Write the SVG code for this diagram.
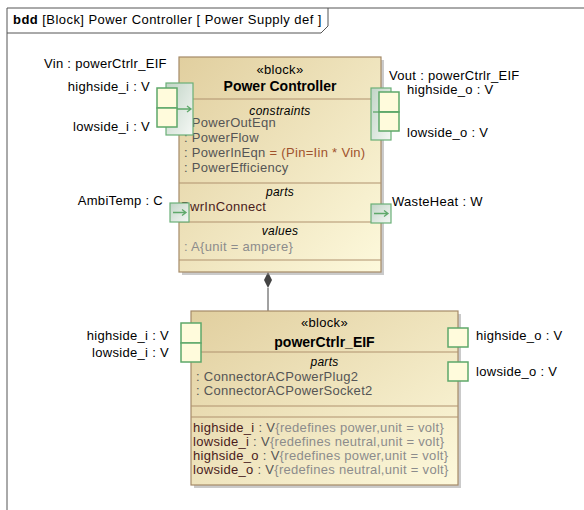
<svg xmlns="http://www.w3.org/2000/svg" width="584" height="510" viewBox="0 0 584 510">
<defs>
<linearGradient id="blk" x1="0" y1="0" x2="1" y2="1">
<stop offset="0" stop-color="#e1cf9f"/>
<stop offset="1" stop-color="#fdf9dc"/>
</linearGradient>
<linearGradient id="grp" x1="0" y1="0" x2="1" y2="1">
<stop offset="0" stop-color="#c1d4c6"/>
<stop offset="1" stop-color="#f5f8f5"/>
</linearGradient>
</defs>
<style>
text{font-family:"Liberation Sans",Arial,sans-serif;font-size:13px;fill:#000;letter-spacing:0.3px}
.frame{fill:none;stroke:#555;stroke-width:1}
.blk{fill:url(#blk);stroke:#a58a68;stroke-width:1.2}
.shadow{fill:#8a8a8a;opacity:.45}
.div{stroke:#b0926e;stroke-width:1.2}
.port{fill:#fffbdc;stroke:#5ea86a;stroke-width:1.5}
.grp{fill:url(#grp);stroke:#6ab077;stroke-width:1.2}
.parr{stroke:#5ea86a;stroke-width:1.3;fill:none}
.ct{text-anchor:middle}
.end{text-anchor:end}
.b{font-weight:bold;font-size:14px;letter-spacing:0}
.ttl{font-style:italic;font-size:12px}
.g{fill:#555}
.lg{fill:#8c8c8c}
.eq{fill:#a0522d}
.nm{fill:#4a1c1c}
.conn{stroke:#444;stroke-width:1;fill:none}
</style>

<g id="frame">
<path class="frame" d="M7,510 V8 H584"/>
<path class="frame" d="M7,33 H321 L328,26 V8"/>
<text x="13" y="24" style="letter-spacing:0.45px"><tspan font-weight="bold">bdd</tspan> [Block] Power Controller [ Power Supply def ]</text>
</g>

<g id="connectors">
<line class="conn" x1="268" y1="288" x2="268" y2="311"/>
<polygon points="268,272 272,280 268,288 264,280" fill="#444"/>
</g>

<g id="power-controller">
<rect class="shadow" x="182" y="60" width="202" height="215"/>
<rect class="blk" x="179" y="57" width="202" height="215"/>
<line class="div" x1="179" y1="99" x2="381" y2="99"/>
<line class="div" x1="179" y1="183" x2="381" y2="183"/>
<line class="div" x1="179" y1="222" x2="381" y2="222"/>
<line class="div" x1="179" y1="260" x2="381" y2="260"/>
<text class="ct" x="280" y="74">«block»</text>
<text class="ct b" x="280" y="91">Power Controller</text>
<text class="ct ttl" x="280" y="115">constraints</text>
<text class="g" x="184" y="127">: PowerOutEqn</text>
<text class="g" x="184" y="142">: PowerFlow</text>
<text class="g" x="184" y="157">: PowerInEqn<tspan class="eq"> = (Pin=Iin * Vin)</tspan></text>
<text class="g" x="184" y="172">: PowerEfficiency</text>
<text class="ct ttl" x="280" y="196">parts</text>
<text class="nm" x="181" y="211">PwrInConnect</text>
<text class="ct ttl" x="280" y="235">values</text>
<text class="lg" x="184" y="251">: A{unit = ampere}</text>
</g>

<g id="vin-port">
<rect class="grp" x="166" y="83" width="27" height="52"/>
<rect class="port" x="157" y="88" width="20" height="20"/>
<rect class="port" x="157" y="108" width="20" height="19"/>
<path class="parr" d="M177,109 H191 M187,106 L191,109 L187,112"/>
<text x="44" y="68">Vin : powerCtrlr_EIF</text>
<text class="end" x="150" y="91">highside_i : V</text>
<text class="end" x="150" y="131">lowside_i : V</text>
</g>

<g id="vout-port">
<rect class="grp" x="371" y="88" width="20" height="52"/>
<rect class="port" x="379" y="92" width="20" height="20"/>
<rect class="port" x="379" y="112" width="20" height="19"/>
<line class="parr" x1="373" y1="112" x2="399" y2="112" stroke-width="2"/>
<text x="389" y="80">Vout : powerCtrlr_EIF</text>
<text x="407" y="94">highside_o : V</text>
<text x="407" y="137">lowside_o : V</text>
</g>

<g id="ambitemp-port">
<rect class="grp" x="170" y="203" width="19" height="19"/>
<path class="parr" d="M173,212.5 H186 M182,209.5 L186,212.5 L182,215.5"/>
<text class="end" x="163" y="205">AmbiTemp : C</text>
</g>

<g id="wasteheat-port">
<rect class="grp" x="371" y="204" width="20" height="19"/>
<path class="parr" d="M374,213.5 H388 M384,210.5 L388,213.5 L384,216.5"/>
<text x="392" y="206">WasteHeat : W</text>
</g>

<g id="powerctrlr-eif">
<rect class="shadow" x="194" y="314" width="267" height="174"/>
<rect class="blk" x="191" y="311" width="267" height="174"/>
<line class="div" x1="191" y1="352" x2="458" y2="352"/>
<line class="div" x1="191" y1="406" x2="458" y2="406"/>
<line class="div" x1="191" y1="417" x2="458" y2="417"/>
<text class="ct" x="324.5" y="327">«block»</text>
<text class="ct b" x="324.5" y="347">powerCtrlr_EIF</text>
<text class="ct ttl" x="324.5" y="366">parts</text>
<text class="g" x="196" y="381">: ConnectorACPowerPlug2</text>
<text class="g" x="196" y="395">: ConnectorACPowerSocket2</text>
<text x="193" y="432"><tspan class="nm">highside_i</tspan><tspan class="g"> : V</tspan><tspan class="lg">{redefines power,unit = volt}</tspan></text>
<text x="193" y="446"><tspan class="nm">lowside_i</tspan><tspan class="g"> : V</tspan><tspan class="lg">{redefines neutral,unit = volt}</tspan></text>
<text x="193" y="460"><tspan class="nm">highside_o</tspan><tspan class="g"> : V</tspan><tspan class="lg">{redefines power,unit = volt}</tspan></text>
<text x="193" y="474"><tspan class="nm">lowside_o</tspan><tspan class="g"> : V</tspan><tspan class="lg">{redefines neutral,unit = volt}</tspan></text>
</g>

<g id="eif-ports">
<rect class="port" x="181" y="323" width="20" height="20"/>
<rect class="port" x="181" y="343" width="20" height="19"/>
<rect class="port" x="448" y="328" width="20" height="19"/>
<rect class="port" x="448" y="362" width="20" height="19"/>
<text class="end" x="169" y="340">highside_i : V</text>
<text class="end" x="169" y="357">lowside_i : V</text>
<text x="476" y="340">highside_o : V</text>
<text x="476" y="376">lowside_o : V</text>
</g>
</svg>
